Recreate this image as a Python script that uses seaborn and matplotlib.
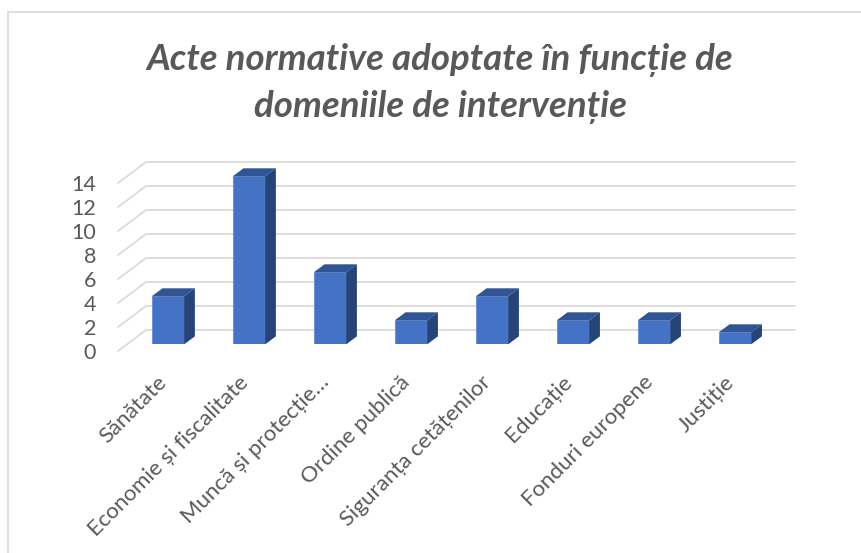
import matplotlib
matplotlib.use('Agg')
import matplotlib.pyplot as plt
import seaborn as sns
from matplotlib.lines import Line2D
from matplotlib.transforms import ScaledTranslation

# chart data
categories = ['Sănătate', 'Economie și fiscalitate', 'Muncă și protecție…', 'Ordine publică',
              'Siguranța cetățenilor', 'Educație', 'Fonduri europene', 'Justiție']
values = [4, 14, 6, 2, 4, 2, 2, 1]
y_ticks = [0, 2, 4, 6, 8, 10, 12, 14]
title = 'Acte normative adoptate în funcție de\ndomeniile de intervenție'

W, H = 861, 553
grey = '#595959'

sns.set_theme(style='white')
plt.rcParams['font.family'] = ['Lato', 'Open Sans', 'DejaVu Sans']

fig = plt.figure(figsize=(W / 100, H / 100), dpi=100)
ax = fig.add_axes([118 / W, (H - 344.3) / H, 677 / W, 192 / H])

sns.barplot(x=categories, y=values, color='#4472C4', saturation=1, width=0.40,
            edgecolor='#6f93d4', linewidth=0.8, zorder=3, ax=ax)
ax.set_xlim(-0.617, 7.74)
ax.set_ylim(0, 16)

# pixel scale of the data units, used for the fake 3d depth
px_x = 81
px_y = 12

# walls: slanted side lines + back lines
for v in y_ticks:
    y_front = v - 6.7 / px_y
    y_back = v + 14.3 / px_y
    ax.plot([-0.617, -0.617 + 28 / px_x], [y_front, y_back], color='#DDDDDD', lw=1.4,
            clip_on=False, zorder=1)
    ax.plot([-0.617 + 28 / px_x, 7.74], [y_back, y_back], color='#DDDDDD', lw=1.4,
            clip_on=False, zorder=1)

# bar depth, built from the drawn bars
dx = 10.7 / px_x
dy = 8 / px_y
for bar in ax.patches[:len(values)]:
    x0 = bar.get_x()
    x1 = x0 + bar.get_width()
    top = bar.get_height()
    ax.fill([x0, x0 + dx, x1 + dx, x1], [top, top + dy, top + dy, top], color='#2F5597',
            lw=0, zorder=3, clip_on=False)
    ax.fill([x1, x1 + dx, x1 + dx, x1], [0, dy, top + dy, top], color='#264478',
            lw=0, zorder=3, clip_on=False)

sns.despine(ax=ax, left=True, bottom=True)
ax.set_xlabel('')
ax.set_ylabel('')

ax.set_yticks(y_ticks)
ax.set_yticklabels([str(v) for v in y_ticks], fontsize=15.5, color=grey)
ax.tick_params(axis='y', length=0, pad=15.8)
for lab in ax.get_yticklabels():
    lab.set_transform(lab.get_transform() + ScaledTranslation(0, -6.7 / 100, fig.dpi_scale_trans))

ax.set_xticks(range(len(categories)))
ax.set_xticklabels(categories, fontsize=16, color=grey, rotation=45, ha='right', rotation_mode='anchor')
ax.tick_params(axis='x', length=0, pad=20)
for lab in ax.get_xticklabels():
    lab.set_transform(lab.get_transform() + ScaledTranslation(-11 / 100, 0, fig.dpi_scale_trans))

fig.text(440 / W, 1 - 83.5 / H, title, ha='center', va='center', fontsize=26.4, color=grey,
         fontweight='bold', fontstyle='italic', linespacing=1.46)

# chart frame
frame = '#D9D9D9'
fig.add_artist(Line2D([7.5 / W, 1], [1 - 11.5 / H, 1 - 11.5 / H], color=frame, lw=1.2))
fig.add_artist(Line2D([7.5 / W, 7.5 / W], [0, 1 - 11.5 / H], color=frame, lw=1.2))

fig.savefig('out.png', dpi=100)
